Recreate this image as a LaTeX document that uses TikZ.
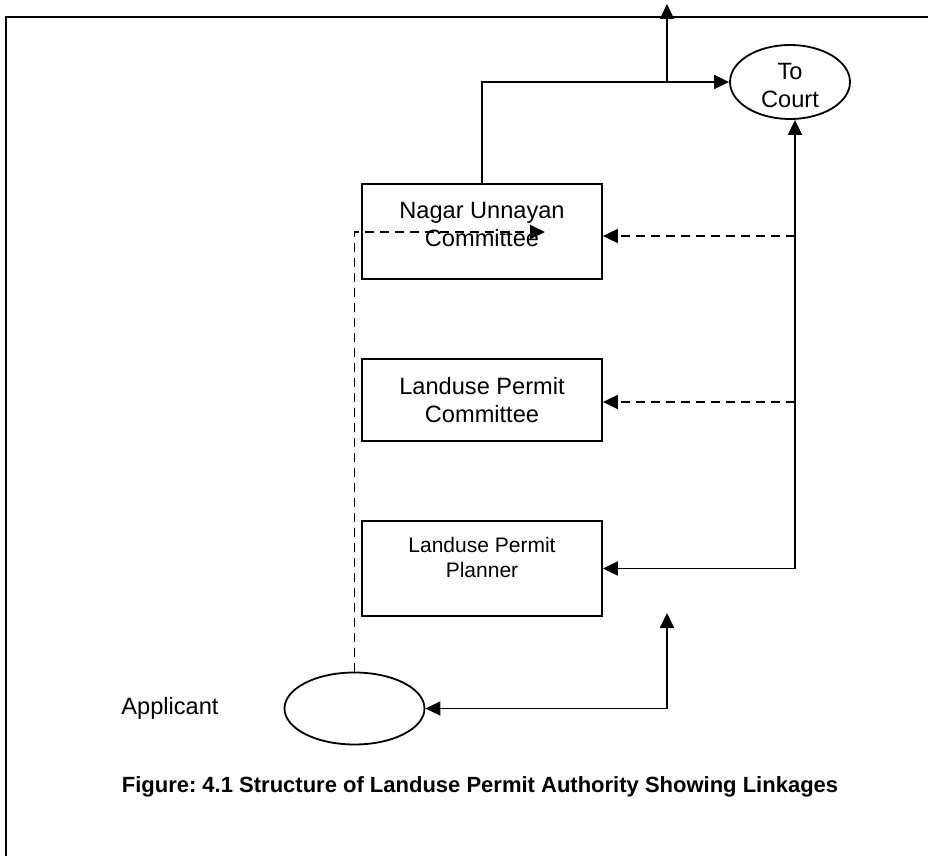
\documentclass[tikz,border=0pt]{standalone}
\usepackage{fontspec}
\setmainfont{Liberation Sans}
\frenchspacing
\usetikzlibrary{arrows.meta,shapes.geometric}
\begin{document}
\begin{tikzpicture}[x=0.5pt,y=-0.5pt,
  line width=0.9pt,
  arr/.style={-{Triangle[length=7.5pt,width=7pt]}},
  dsh/.style={dash pattern=on 4.5pt off 3pt},
  pbox/.style={draw,rectangle,minimum width=120pt,inner sep=0pt},
  oval/.style={draw,ellipse,inner sep=0pt},
  txt/.style={align=center,font=\fontsize{11.8}{14}\selectfont}]
  \useasboundingbox (0,0) rectangle (928,856);
  \draw (6,17) rectangle (960,900);
  \node[pbox,minimum height=47.5pt] (nuc) at (482,231.5) {};
  \node[txt] (nuctext) at (482,224) {Nagar Unnayan\\Committee};
  \node[pbox,minimum height=41pt] (lpc) at (482,400) {};
  \node[txt] (lpctext) at (482,400) {Landuse Permit\\Committee};
  \node[pbox,minimum height=47.5pt] (lpp) at (482,568.5) {};
  \node[txt,font=\fontsize{10.5}{12.5}\selectfont] (lpptext) at (482,557) {Landuse Permit\\Planner};
  \node[oval,minimum width=60pt,minimum height=37pt] (court) at (790,82) {};
  \node[txt] (courttext) at (790,85) {To\\Court};
  \node[oval,minimum width=70pt,minimum height=36pt] (appl) at (354.5,708.5) {};
  \node[txt] (appltext) at (170,708) {Applicant};
  \node[font=\bfseries\fontsize{11}{13}\selectfont] (caption) at (480,787)
    {Figure: 4.1 Structure of Landuse Permit Authority Showing Linkages};
  \coordinate (exit) at (667,4);
  \coordinate (rail) at (795,0);
  \coordinate (feed) at (667,613);
  \coordinate (nucin) at (545,232);
  \draw[arr] (nuc.north) |- (court.west);
  \draw[arr] (exit |- court.west) -- (exit);
  \draw[arr] (rail |- lpp.east) -- (rail |- court.south);
  \draw[arr] (rail |- lpp.east) -- (lpp.east);
  \draw[arr,dsh] (rail |- 0,236) -- (nuc.east |- 0,236);
  \draw[arr,dsh] (rail |- 0,402) -- (lpc.east |- 0,402);
  \draw[arr] (feed |- appl.east) -- (appl.east);
  \draw[arr] (feed |- appl.east) -- (feed);
  \draw[arr,dsh] (appl.north) |- (nucin);
\end{tikzpicture}
\end{document}
